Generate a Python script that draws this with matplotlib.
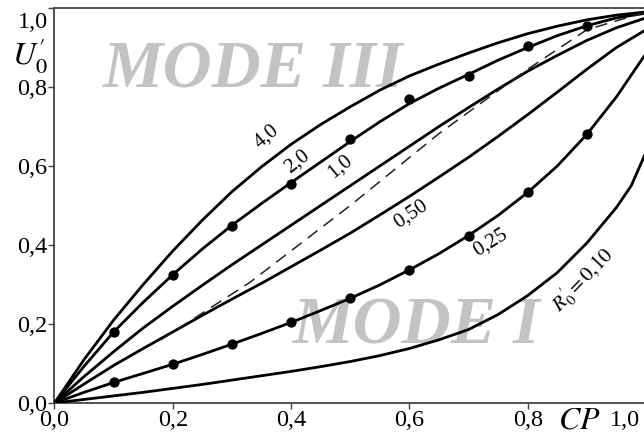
import matplotlib
matplotlib.use("Agg")
import matplotlib.pyplot as plt
from matplotlib.transforms import ScaledTranslation

plt.rcParams['font.family'] = ['Liberation Serif', 'DejaVu Serif']
plt.rcParams['mathtext.fontset'] = 'stix'

# ---- data ----
cp = [0.0, 0.05, 0.1, 0.15, 0.2, 0.25, 0.3, 0.35, 0.4, 0.45, 0.5,
      0.55, 0.6, 0.65, 0.7, 0.75, 0.8, 0.85, 0.9, 0.95, 1.0]
u_r40 = [0.0, 0.11, 0.21, 0.30, 0.385, 0.463, 0.535, 0.598, 0.655, 0.705, 0.75,
         0.792, 0.828, 0.858, 0.886, 0.912, 0.935, 0.954, 0.97, 0.982, 0.99]
u_r20 = [0.0, 0.093, 0.18, 0.255, 0.325, 0.39, 0.45, 0.505, 0.558, 0.61, 0.662,
         0.712, 0.758, 0.797, 0.832, 0.868, 0.9, 0.93, 0.955, 0.975, 0.987]
u_r10 = [0.0, 0.067, 0.13, 0.19, 0.245, 0.298, 0.35, 0.40, 0.45, 0.50, 0.55,
         0.60, 0.65, 0.70, 0.748, 0.795, 0.84, 0.88, 0.918, 0.95, 0.975]
u_r05 = [0.0, 0.048, 0.095, 0.138, 0.18, 0.222, 0.263, 0.303, 0.345, 0.387, 0.43,
         0.476, 0.523, 0.572, 0.622, 0.675, 0.73, 0.787, 0.845, 0.9, 0.945]
u_r025 = [0.0, 0.027, 0.052, 0.075, 0.098, 0.123, 0.149, 0.176, 0.204, 0.234, 0.265,
          0.299, 0.337, 0.378, 0.424, 0.475, 0.533, 0.6, 0.68, 0.775, 0.885]
cp_r01 = [0.0, 0.05, 0.1, 0.15, 0.2, 0.25, 0.3, 0.35, 0.4, 0.45, 0.5,
          0.55, 0.6, 0.65, 0.7, 0.75, 0.8, 0.85, 0.9, 0.95, 0.975, 1.0]
u_r01 = [0.0, 0.009, 0.018, 0.027, 0.037, 0.047, 0.058, 0.069, 0.08, 0.092, 0.105,
         0.12, 0.138, 0.16, 0.186, 0.224, 0.272, 0.33, 0.405, 0.495, 0.55, 0.635]

cp_dash = [0.18, 0.33, 0.5, 0.65, 0.8, 0.9, 1.0]
u_dash = [0.16, 0.305, 0.5, 0.682, 0.845, 0.945, 0.99]

cp_pts = [0.1, 0.2, 0.3, 0.4, 0.5, 0.6, 0.7, 0.8, 0.9]
u_pts_r20 = [0.18, 0.324, 0.449, 0.554, 0.669, 0.769, 0.828, 0.904, 0.954]
u_pts_r025 = [0.052, 0.098, 0.149, 0.204, 0.265, 0.337, 0.424, 0.533, 0.68]

curve_labels = ["4,0", "2,0", "1,0", "0,50", "0,25", r"$R_0'=0{,}10$"]
label_x = [0.358, 0.41, 0.483, 0.603, 0.738, 0.894]
label_y = [0.675, 0.61, 0.598, 0.478, 0.405, 0.311]
label_rot = [40, 39, 40, 34, 32, 46]

tick_vals = [0.0, 0.2, 0.4, 0.6, 0.8, 1.0]
tick_labels = ["0,0", "0,2", "0,4", "0,6", "0,8", "1,0"]

# ---- figure ----
fig = plt.figure(figsize=(6.44, 4.34), dpi=100)
ax = fig.add_axes([54.5 / 644, 31 / 434, (646 - 54.5) / 644, 395 / 434])
ax.set_xlim(0, 1)
ax.set_ylim(0, 1)

lw = 2.0
for u in (u_r40, u_r20, u_r10, u_r05, u_r025):
    ax.plot(cp, u, color='black', lw=lw, zorder=3)
ax.plot(cp_r01, u_r01, color='black', lw=lw, zorder=3)
ax.plot(cp_dash, u_dash, color='#222222', lw=1.1, dashes=(8, 5), zorder=3)
ax.scatter(cp_pts, u_pts_r20, s=55, color='black', zorder=4, linewidths=0)
ax.scatter(cp_pts, u_pts_r025, s=55, color='black', zorder=4, linewidths=0)

for t, x, y, r in zip(curve_labels, label_x, label_y, label_rot):
    ax.text(x, y, t, rotation=r, ha='center', va='center', rotation_mode='anchor',
            fontsize=15, zorder=5)

ax.text(103 / 644, 1 - 88 / 434, "MODE III", transform=fig.transFigure,
        fontsize=49, fontweight='bold', fontstyle='italic', color='#c3c3c3',
        ha='left', va='baseline', zorder=1)
ax.text(293 / 644, 1 - 343 / 434, "MODE I", transform=fig.transFigure,
        fontsize=49, fontweight='bold', fontstyle='italic', color='#c3c3c3',
        ha='left', va='baseline', zorder=1)

ax.set_xticks(tick_vals)
ax.set_xticklabels(tick_labels)
ax.set_yticks(tick_vals)
ax.set_yticklabels(tick_labels)
ax.tick_params(direction='out', length=4, width=1, labelsize=17.5, pad=1, color='#444444')

for lab in ax.get_xticklabels():
    if lab.get_text() == "1,0":
        lab.set_transform(lab.get_transform() + ScaledTranslation(-0.21, 0, fig.dpi_scale_trans))
for lab in ax.get_yticklabels():
    if lab.get_text() == "1,0":
        lab.set_transform(lab.get_transform() + ScaledTranslation(0, -0.12, fig.dpi_scale_trans))

for s in ax.spines.values():
    s.set_color('#444444')
    s.set_linewidth(1.3)

fig.text(30 / 644, 1 - 55 / 434, r"$U_0'$", fontsize=23, ha='center', va='center')
fig.text(579 / 644, 1 - 421 / 434, r"$CP$", fontsize=23, ha='center', va='center')

fig.savefig("out.png", dpi=100)
